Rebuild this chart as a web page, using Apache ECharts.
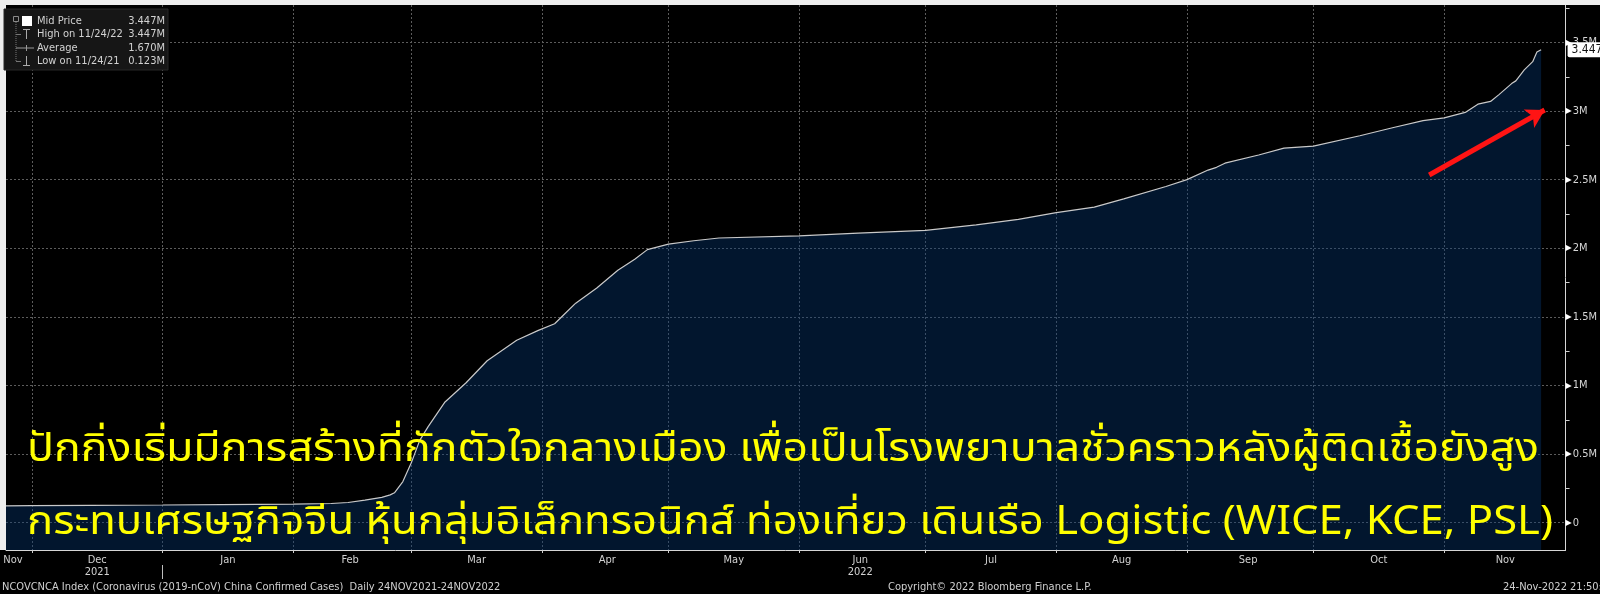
<!DOCTYPE html>
<html><head><meta charset="utf-8">
<script src="https://cdn.jsdelivr.net/npm/echarts@6/dist/echarts.min.js"></script>
<style>html,body{margin:0;padding:0;background:#000;overflow:hidden}#c{width:1600px;height:594px;}</style>
</head><body><div id="c"></div>
<script>
// ---------- data ----------
const dates = ['2021-11-24','2021-12-01','2021-12-15','2022-01-01','2022-01-15','2022-02-01','2022-02-10','2022-02-14','2022-02-18','2022-02-22','2022-02-24','2022-02-25','2022-02-27','2022-03-01','2022-03-03','2022-03-05','2022-03-09','2022-03-14','2022-03-19','2022-03-26','2022-03-31','2022-04-04','2022-04-06','2022-04-09','2022-04-14','2022-04-19','2022-04-23','2022-04-26','2022-05-01','2022-05-07','2022-05-13','2022-06-01','2022-06-15','2022-07-01','2022-07-13','2022-07-23','2022-08-01','2022-08-10','2022-08-17','2022-08-27','2022-09-01','2022-09-06','2022-09-08','2022-09-10','2022-09-18','2022-09-24','2022-10-01','2022-10-12','2022-10-20','2022-10-27','2022-11-01','2022-11-06','2022-11-09','2022-11-12','2022-11-14','2022-11-17','2022-11-18','2022-11-20','2022-11-22','2022-11-23','2022-11-24'];
const cases = [123000,124000,126000,129000,132000,136000,140000,147000,165000,185000,203000,218000,300000,436000,600000,700000,880000,1020000,1180000,1330000,1400000,1450000,1510000,1600000,1710000,1840000,1920000,1990000,2030000,2055000,2075000,2090000,2110000,2130000,2170000,2210000,2260000,2300000,2360000,2450000,2500000,2570000,2590000,2620000,2680000,2730000,2745000,2820000,2880000,2930000,2950000,2990000,3050000,3070000,3120000,3200000,3220000,3300000,3360000,3430000,3447000];

const yTickValues = [0,500000,1000000,1500000,2000000,2500000,3000000,3500000];
const yTickLabels = ['0','0.5M','1M','1.5M','2M','2.5M','3M','3.5M'];
const yMinorValues = [250000,750000,1250000,1750000,2250000,2750000,3250000,3750000];

const monthStarts = ['2021-12-01','2022-01-01','2022-02-01','2022-03-01','2022-04-01','2022-05-01','2022-06-01','2022-07-01','2022-08-01','2022-09-01','2022-10-01','2022-11-01'];
const monthLabelDates = ['2021-11-26','2021-12-16','2022-01-16','2022-02-14','2022-03-16','2022-04-16','2022-05-16','2022-06-15','2022-07-16','2022-08-16','2022-09-15','2022-10-16','2022-11-15'];
const monthLabels = ['Nov','Dec\n2021','Jan','Feb','Mar','Apr','May','Jun\n2022','Jul','Aug','Sep','Oct','Nov'];
const yearBreaks = ['2022-01-01'];

const legendLabels = ['Mid Price','High on 11/24/22','Average','Low on 11/24/21'];
const legendValues = ['3.447M','3.447M','1.670M','0.123M'];
const lastLabel = '3.447M';

const headline1 = 'ปักกิ่งเริ่มมีการสร้างที่กักตัวใจกลางเมือง เพื่อเป็นโรงพยาบาลชั่วคราวหลังผู้ติดเชื้อยังสูง';
const headline2 = 'กระทบเศรษฐกิจจีน หุ้นกลุ่มอิเล็กทรอนิกส์ ท่องเที่ยว เดินเรือ Logistic (WICE, KCE, PSL)';
const footLeft = 'NCOVCNCA Index (Coronavirus (2019-nCoV) China Confirmed Cases)  Daily 24NOV2021-24NOV2022';
const footMid = 'Copyright\u00a9 2022 Bloomberg Finance L.P.';
const footRight = '24-Nov-2022 21:50:00';

// arrow annotation (date, value) pairs
const arrowFrom = ['2022-10-28T11:00', 2534000];
const arrowTo = ['2022-11-24T20:00', 3008000];

// ---------- helpers ----------
function ts(s) {
  const [d, t] = s.split('T');
  const [y, m, dd] = d.split('-').map(Number);
  let h = 0, mi = 0;
  if (t) { [h, mi] = t.split(':').map(Number); }
  return Date.UTC(y, m - 1, dd, h, mi);
}
const FONT = "'DejaVu Sans Condensed','Liberation Sans Narrow','DejaVu Sans',sans-serif";
const THAI = "'Noto Sans Thai','Noto Sans Thai UI','Noto Sans','DejaVu Sans',sans-serif";
const xMin = Date.UTC(2021, 10, 24, 20, 41);
const xMax = Date.UTC(2022, 10, 29, 19, 12);
const yMin = -199000, yMax = 3773000;

function fitScale(text, size, target) {
  const ctx = document.createElement('canvas').getContext('2d');
  ctx.font = size + 'px ' + THAI;
  const w = ctx.measureText(text).width;
  return w > 0 ? target / w : 1;
}
const s1 = fitScale(headline1, 40, 1512);
const s2 = fitScale(headline2, 40, 1526);

const seriesData = dates.map((d, i) => [ts(d), cases[i]]);
const labelTs = monthLabelDates.map(d => ts(d + 'T12:00'));

const legendRows = [21, 34.5, 48, 61.5];
const legendGraphics = [
  {type: 'rect', shape: {x: 4, y: 9, width: 164, height: 61}, style: {fill: '#161616', stroke: '#262626'}, z: 100},
  {type: 'rect', shape: {x: 13.5, y: 16.5, width: 5, height: 5}, style: {fill: 'none', stroke: '#8a8a8a', lineWidth: 1}, z: 101},
  {type: 'line', shape: {x1: 16, y1: 22, x2: 16, y2: 62}, style: {stroke: '#777', lineWidth: 1, lineDash: [1, 1]}, z: 101},
  {type: 'rect', shape: {x: 22, y: 16, width: 10, height: 10}, style: {fill: '#ffffff'}, z: 101},
  {type: 'line', shape: {x1: 16, y1: 34.5, x2: 21, y2: 34.5}, style: {stroke: '#777', lineWidth: 1}, z: 101},
  {type: 'line', shape: {x1: 23, y1: 29.5, x2: 30, y2: 29.5}, style: {stroke: '#aaa', lineWidth: 1}, z: 101},
  {type: 'line', shape: {x1: 26.5, y1: 29.5, x2: 26.5, y2: 39}, style: {stroke: '#aaa', lineWidth: 1}, z: 101},
  {type: 'line', shape: {x1: 16, y1: 48, x2: 34, y2: 48}, style: {stroke: '#999', lineWidth: 1}, z: 101},
  {type: 'line', shape: {x1: 26.5, y1: 45, x2: 26.5, y2: 51}, style: {stroke: '#999', lineWidth: 1}, z: 101},
  {type: 'line', shape: {x1: 16, y1: 61.5, x2: 21, y2: 61.5}, style: {stroke: '#777', lineWidth: 1}, z: 101},
  {type: 'line', shape: {x1: 26.5, y1: 56, x2: 26.5, y2: 65.5}, style: {stroke: '#aaa', lineWidth: 1}, z: 101},
  {type: 'line', shape: {x1: 23, y1: 65.5, x2: 30, y2: 65.5}, style: {stroke: '#aaa', lineWidth: 1}, z: 101}
];
legendLabels.forEach((t, i) => {
  legendGraphics.push({type: 'text', x: 37, y: legendRows[i], z: 102,
    style: {text: t, fill: '#d2d2d2', fontSize: 11, fontFamily: FONT, verticalAlign: 'middle', align: 'left'}});
  legendGraphics.push({type: 'text', x: 165, y: legendRows[i], z: 102,
    style: {text: legendValues[i], fill: '#d2d2d2', fontSize: 11, fontFamily: FONT, verticalAlign: 'middle', align: 'right'}});
});

const chart = echarts.init(document.getElementById('c'), null, {renderer: 'canvas'});
const option = {
  backgroundColor: '#000',
  animation: false,
  grid: {left: 6, right: 27, top: 5, bottom: 44, containLabel: false},
  xAxis: [
    {
      type: 'value', min: xMin, max: xMax,
      axisLine: {show: true, onZero: false, lineStyle: {color: '#d6d6d6', width: 1}},
      axisTick: {show: true, customValues: monthStarts.map(ts), length: 3, lineStyle: {color: '#cfcfcf'}},
      axisLabel: {show: false},
      splitLine: {show: true, lineStyle: {color: '#5c5c5c', type: [2, 2], width: 1}}
    },
    {
      type: 'value', min: xMin, max: xMax, position: 'bottom',
      axisLine: {show: false, onZero: false}, axisTick: {show: false}, splitLine: {show: false},
      axisLabel: {
        show: true, customValues: labelTs, color: '#d2d2d2', fontSize: 11, fontFamily: FONT,
        margin: 4, lineHeight: 12,
        formatter: function (v) {
          let best = 0, bd = Infinity;
          labelTs.forEach((t, i) => { const d = Math.abs(t - v); if (d < bd) { bd = d; best = i; } });
          return monthLabels[best];
        }
      }
    },
    {
      type: 'value', min: xMin, max: xMax, position: 'bottom', offset: 15,
      axisLine: {show: false, onZero: false}, splitLine: {show: false}, axisLabel: {show: false},
      axisTick: {show: true, customValues: yearBreaks.map(ts), length: 14, lineStyle: {color: '#bdbdbd'}}
    }
  ],
  yAxis: [
    {
      type: 'value', position: 'right', min: yMin, max: yMax,
      axisLine: {show: true, onZero: false, lineStyle: {color: '#d6d6d6', width: 1}},
      axisTick: {show: false, customValues: yTickValues},
      splitLine: {show: true, lineStyle: {color: '#5c5c5c', type: [2, 2], width: 1}},
      axisLabel: {
        show: true, customValues: yTickValues, margin: 0,
        formatter: function (v) {
          const i = yTickValues.indexOf(v);
          return '{t|\u25B6}{v|' + (i >= 0 ? yTickLabels[i] : '') + '}';
        },
        rich: {
          t: {fontSize: 8, color: '#ffffff', fontFamily: 'DejaVu Sans'},
          v: {fontSize: 11, color: '#d6d6d6', fontFamily: FONT, padding: [0, 0, 0, 1]}
        }
      }
    },
    {
      type: 'value', position: 'right', min: yMin, max: yMax,
      axisLine: {show: false, onZero: false}, splitLine: {show: false}, axisLabel: {show: false},
      axisTick: {show: true, customValues: yMinorValues, length: 4, lineStyle: {color: '#cfcfcf'}}
    }
  ],
  series: [{
    type: 'line', xAxisIndex: 0, yAxisIndex: 0,
    data: seriesData, showSymbol: false, symbol: 'none',
    lineStyle: {color: '#c9c9c9', width: 1.2},
    areaStyle: {color: 'rgba(4,56,120,0.55)', origin: 'start'},
    z: 2,
    markLine: {
      silent: true, symbol: 'none', animation: false, z: 20,
      data: [
        {yAxis: cases[cases.length - 1], lineStyle: {color: 'rgba(0,0,0,0)', width: 0},
          label: {show: true, position: 'end', distance: 2, formatter: lastLabel,
            backgroundColor: '#ffffff', color: '#111', fontSize: 12, fontFamily: FONT,
            padding: [2, 3, 1, 4], borderRadius: 2}},
        [
          {coord: [ts(arrowFrom[0]), arrowFrom[1]], symbol: 'none',
            lineStyle: {color: '#ff1414', width: 5, type: 'solid'}, label: {show: false}},
          {coord: [ts(arrowTo[0]), arrowTo[1]], symbol: 'arrow', symbolSize: [16, 18]}
        ]
      ]
    }
  }],
  graphic: [
    {type: 'rect', shape: {x: 0, y: 0, width: 1600, height: 5}, style: {fill: '#eeeeee'}, z: 100},
    {type: 'rect', shape: {x: 0, y: 0, width: 6, height: 550}, style: {fill: '#eeeeee'}, z: 100},
    ...legendGraphics,
    {type: 'text', x: 27, y: 433, scaleX: s1, z: 110,
      style: {text: headline1, fill: '#ffff00', fontSize: 40, fontFamily: THAI, verticalAlign: 'alphabetic', align: 'left'}},
    {type: 'text', x: 27, y: 506, scaleX: s2, z: 110,
      style: {text: headline2, fill: '#ffff00', fontSize: 40, fontFamily: THAI, verticalAlign: 'alphabetic', align: 'left'}},
    {type: 'text', x: 2, y: 587, z: 110,
      style: {text: footLeft, fill: '#d0d0d0', fontSize: 11, fontFamily: FONT, verticalAlign: 'middle'}},
    {type: 'text', x: 888, y: 587, z: 110,
      style: {text: footMid, fill: '#d0d0d0', fontSize: 11, fontFamily: FONT, verticalAlign: 'middle'}},
    {type: 'text', x: 1503, y: 587, z: 110,
      style: {text: footRight, fill: '#d0d0d0', fontSize: 11, fontFamily: FONT, verticalAlign: 'middle'}}
  ]
};
chart.setOption(option);
</script>
</body></html>
